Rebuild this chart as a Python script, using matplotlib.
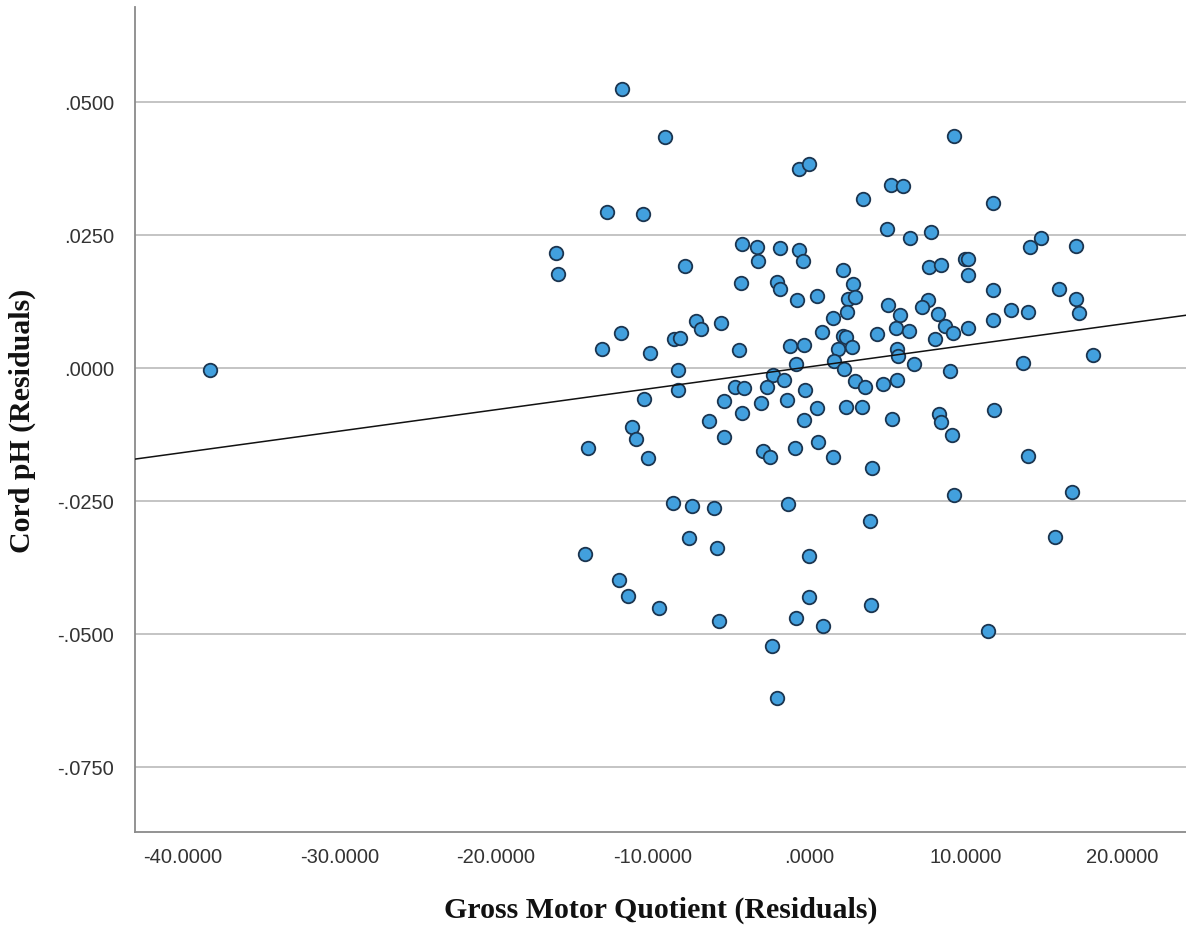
import matplotlib
matplotlib.use("Agg")
import matplotlib.pyplot as plt
import numpy as np
from matplotlib.ticker import FuncFormatter

# Gross Motor Quotient residuals (x) and Cord pH residuals (y)
gmq_resid = [
    -11.94, -9.20, -12.90, -10.60, -16.16, -16.03, -7.92,
    -0.64, 0.00, 3.45, 5.24, 6.00, 4.98, 6.45, -4.28, -3.32, -3.26, -1.85,
    -0.64, -0.38, 2.17, -4.34, -2.04, -1.85, 2.81,
    9.26, 11.75, 7.79, 14.81, 14.11, 17.05, 7.66, 8.43, 9.96, 10.15, 10.15,
    11.75, 15.96,
    -7.22, -6.90, -5.62, -12.01, -13.22, -10.15, -8.62, -8.24, -8.37, -8.37,
    -10.54, -5.43, -11.30, -11.05, -14.11, -6.39, -5.43, -10.28,
    -0.77, 0.51, 2.49, 2.94, 2.43, 1.53, 0.83, 5.04, 5.81, 5.56, 6.39, 4.34,
    2.17, 2.36, 1.85, 2.75, 5.62, 5.68, -4.47, -1.21, -0.32, -0.83, 1.60,
    2.24, 6.70, -2.30, -1.60, -4.73, -4.15, -2.68, -0.26, 2.94, 3.58, 4.73,
    5.62, -3.07, -1.40, 0.51, 2.36, 3.38, -4.28, -0.32, 5.30, -2.94, -2.49,
    -0.89, 0.57, 1.53, 4.02,
    17.05, 17.24, 7.60, 7.22, 8.24, 8.68, 9.20, 10.15, 11.75, 12.90, 13.98,
    8.05, 18.14, 9.00, 13.67, 11.81, 8.30, 8.43, 9.13, 13.98,
    -8.68, -7.47, -6.07, -1.34, -7.66, -5.87, -14.30, 0.00, -12.13, -11.56,
    0.00, -9.58, -0.83, -5.75, 0.89, -2.36, -2.04,
    9.26, 16.79, 3.90, 15.71, 3.96, 11.43,
    -38.25,
]
ph_resid = [
    0.05235, 0.04333, 0.02923, 0.02885, 0.02152, 0.01758, 0.01908,
    0.03731, 0.03825, 0.03167, 0.03430, 0.03412, 0.02603, 0.02434, 0.02321,
    0.02265, 0.02002, 0.02246, 0.02209, 0.02002, 0.01833, 0.01588, 0.01607,
    0.01476, 0.01570,
    0.04352, 0.03092, 0.02547, 0.02434, 0.02265, 0.02284, 0.01889, 0.01927,
    0.02039, 0.02039, 0.01739, 0.01457, 0.01476,
    0.00874, 0.00724, 0.00836, 0.00648, 0.00348, 0.00273, 0.00536, 0.00555,
    -0.00047, -0.00423, -0.00592, -0.00630, -0.01118, -0.01344, -0.01513,
    -0.01006, -0.01306, -0.01701,
    0.01269, 0.01344, 0.01288, 0.01325, 0.01043, 0.00930, 0.00667, 0.01175,
    0.00987, 0.00742, 0.00686, 0.00630, 0.00592, 0.00573, 0.00348, 0.00385,
    0.00348, 0.00216, 0.00329, 0.00404, 0.00423, 0.00066, 0.00122, -0.00028,
    0.00066, -0.00141, -0.00235, -0.00367, -0.00385, -0.00367, -0.00423,
    -0.00254, -0.00367, -0.00310, -0.00235, -0.00667, -0.00611, -0.00761,
    -0.00742, -0.00742, -0.00855, -0.00987, -0.00968, -0.01570, -0.01682,
    -0.01513, -0.01400, -0.01682, -0.01889,
    0.01288, 0.01024, 0.01269, 0.01137, 0.01006, 0.00780, 0.00648, 0.00742,
    0.00893, 0.01081, 0.01043, 0.00536, 0.00235, -0.00066, 0.00085, -0.00799,
    -0.00874, -0.01024, -0.01269, -0.01664,
    -0.02547, -0.02603, -0.02641, -0.02566, -0.03205, -0.03393, -0.03506,
    -0.03543, -0.03994, -0.04295, -0.04314, -0.04521, -0.04709, -0.04765,
    -0.04859, -0.05235, -0.06212,
    -0.02397, -0.02340, -0.02885, -0.03186, -0.04464, -0.04953,
    -0.00047,
]

# Linear fit line
fit_slope = 0.000403
fit_intercept = 0.00015

x_ticks = [-40, -30, -20, -10, 0, 10, 20]
y_ticks = [-0.075, -0.05, -0.025, 0.0, 0.025, 0.05]
x_label = "Gross Motor Quotient (Residuals)"
y_label = "Cord pH (Residuals)"
x_limits = (-43.04, 24.07)
y_limits = (-0.0873, 0.0678)

W, H = 1186, 928
fig = plt.figure(figsize=(W / 100, H / 100), dpi=100)
ax = fig.add_axes([135 / W, 1 - 833 / H, (W - 135) / W, (833 - 8) / H])

ax.set_xlim(*x_limits)
ax.set_ylim(*y_limits)

for yv in y_ticks:
    ax.axhline(yv, color="#c4c4c4", lw=1.4, zorder=1)

ax.scatter(gmq_resid, ph_resid, s=95, facecolor="#42a0de", edgecolor="#1b3550",
           linewidth=1.3, zorder=3)

xs = np.array(x_limits)
ax.plot(xs, fit_intercept + fit_slope * xs, color="#111111", lw=1.1, zorder=4)

for side in ["top", "right"]:
    ax.spines[side].set_visible(False)
for side in ["left", "bottom"]:
    ax.spines[side].set_color("#8a8a8a")
    ax.spines[side].set_linewidth(1.3)


def fmt_num(v, decimals=4):
    s = f"{v:.{decimals}f}"
    if s.startswith("-0."):
        s = "-" + s[2:]
    elif s.startswith("0."):
        s = s[1:]
    if s in ("-.0000",):
        s = ".0000"
    return s


ax.set_xticks(x_ticks)
ax.set_yticks(y_ticks)
ax.xaxis.set_major_formatter(FuncFormatter(lambda v, p: fmt_num(v)))
ax.yaxis.set_major_formatter(FuncFormatter(lambda v, p: fmt_num(v)))
ax.tick_params(axis="both", length=0, labelsize=14.5, labelcolor="#333333")
ax.tick_params(axis="x", pad=11)
ax.tick_params(axis="y", pad=15)
for lab in ax.get_xticklabels() + ax.get_yticklabels():
    lab.set_fontfamily("Liberation Sans")

fig.text((135 + W) / 2 / W, 1 - 910 / H, x_label, ha="center", va="center",
         fontsize=21.5, fontweight="bold", family="Liberation Serif", color="#111111")
fig.text(22 / W, 1 - 421 / H, y_label, ha="center", va="center", rotation=90,
         fontsize=21.5, fontweight="bold", family="Liberation Serif", color="#111111")

fig.savefig("out.png", dpi=100, facecolor="white")
